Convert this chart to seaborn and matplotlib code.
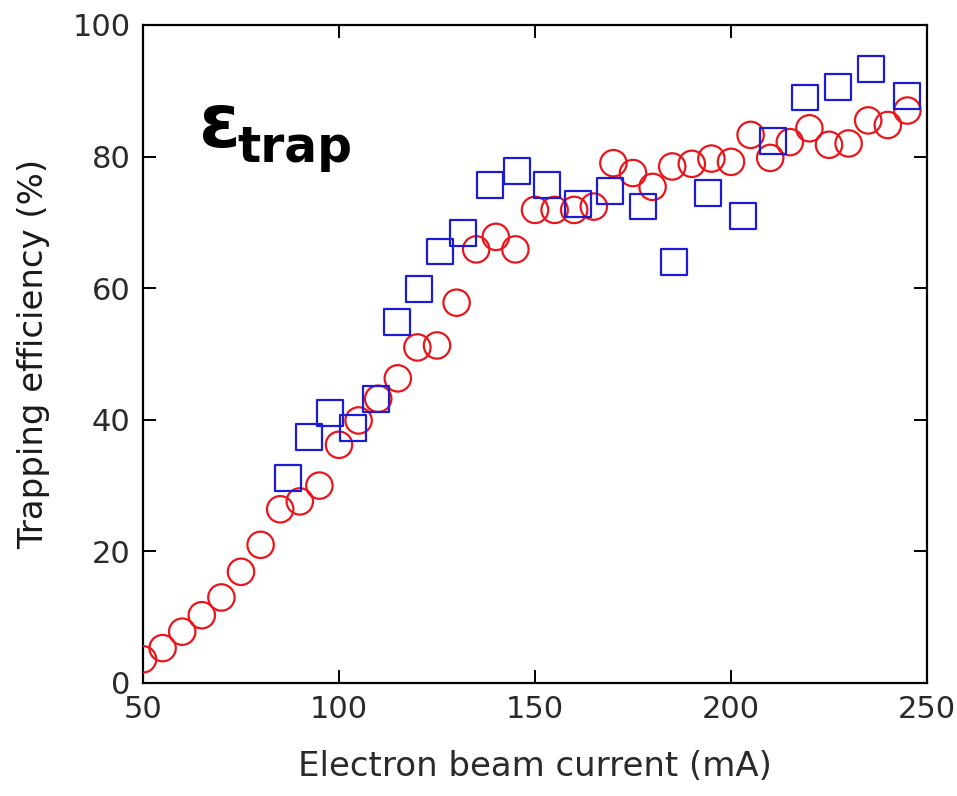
import matplotlib
matplotlib.use("Agg")
import matplotlib.pyplot as plt
import seaborn as sns
import numpy as np

# Red circles series
red_x = [50, 55, 60, 65, 70, 75, 80, 85, 90, 95, 100, 105, 110, 115, 120, 125, 130,
         135, 140, 145, 150, 155, 160, 165, 170, 175, 180, 185, 190, 195, 200, 205,
         210, 215, 220, 225, 230, 235, 240, 245]
red_y = [3.6, 5.3, 7.8, 10.3, 13.0, 16.9, 21.0, 26.4, 27.6, 30.0, 36.2, 39.9, 43.2, 46.3,
         51.0, 51.3, 57.8, 65.9, 67.8, 65.9, 71.9, 71.9, 71.9, 72.4, 79.0, 77.5, 75.4,
         78.5, 78.9, 79.7, 79.2, 83.3, 79.8, 82.2, 84.3, 81.8, 82.0, 85.5, 84.8, 87.0]

# Blue squares series
blue_x = [87, 92.3, 97.7, 103.6, 109.4, 114.8, 120.4, 125.8, 131.6, 138.5, 145.4, 153,
          161, 169.1, 177.6, 185.5, 194.1, 203, 210.7, 218.9, 227.3, 235.7, 244.9]
blue_y = [31.2, 37.4, 41.0, 38.8, 43.2, 54.9, 59.9, 65.6, 68.4, 75.7, 77.8, 75.7,
          72.8, 74.8, 72.4, 64.0, 74.5, 71.0, 82.4, 89.0, 90.6, 93.3, 89.2]

x_ticks = [50, 100, 150, 200, 250]
y_ticks = [0, 20, 40, 60, 80, 100]

sns.set_style("white")
plt.rcParams['font.family'] = ['DejaVu Sans']

fig = plt.figure(figsize=(9.57, 7.96), dpi=100)
ax = fig.add_axes([143/957, (796-683)/796, 784/957, 658/796])

red = "#e8161b"
blue = "#1c1cd6"

sns.scatterplot(x=red_x, y=red_y, ax=ax, marker='o', s=19**2,
                facecolors='none', edgecolors=red, linewidths=1.6, zorder=3)
sns.scatterplot(x=blue_x, y=blue_y, ax=ax, marker='s', s=18.5**2,
                facecolors='none', edgecolors=blue, linewidths=1.6, zorder=4)

ax.set_xlim(50, 250)
ax.set_ylim(0, 100)
ax.set_xticks(x_ticks)
ax.set_yticks(y_ticks)
ax.set_xticklabels([str(v) for v in x_ticks])
ax.set_yticklabels([str(v) for v in y_ticks])

for sp in ax.spines.values():
    sp.set_visible(True)
    sp.set_color("black")
    sp.set_linewidth(1.6)

ax.tick_params(axis='both', which='major', direction='in', length=9.5, width=1.4,
               top=True, right=True, bottom=True, left=True,
               labelsize=22, colors='black', pad=9)
for lab in ax.get_xticklabels() + ax.get_yticklabels():
    lab.set_color('#2a2a2a')

ax.set_xlabel("Electron beam current (mA)", fontsize=24.5, color='#2a2a2a', labelpad=18)
ax.set_ylabel("Trapping efficiency (%)", fontsize=24.5, color='#1a1a1a', labelpad=16)

ax.text(0.072, 0.815, "ε", transform=ax.transAxes, fontsize=54, fontweight='bold',
        ha='left', va='baseline', color='black')
ax.text(0.120, 0.792, "trap", transform=ax.transAxes, fontsize=35, fontweight='bold',
        ha='left', va='baseline', color='black')

ax.grid(False)
fig.savefig("out.png", dpi=100, facecolor='white')
